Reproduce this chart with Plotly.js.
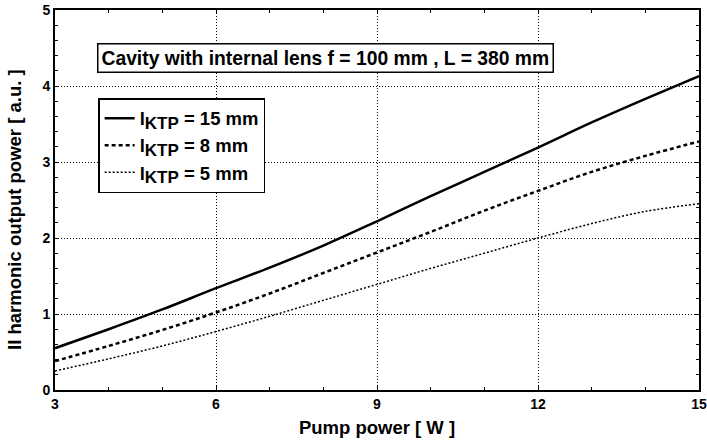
<!DOCTYPE html>
<html>
<head>
<meta charset="utf-8">
<script src="https://cdn.plot.ly/plotly-3.0.1.min.js"></script>
<style>html,body{margin:0;padding:0;background:#fff}#chart{width:707px;height:445px}</style>
</head>
<body>
<div id="chart"></div>
<script>
const pumpPower = [3, 4, 5, 6, 7, 8, 9, 10, 11, 12, 13, 14, 15];
const power15mm = [0.55, 0.80, 1.06, 1.34, 1.61, 1.90, 2.22, 2.55, 2.87, 3.19, 3.52, 3.83, 4.13];
const power8mm  = [0.38, 0.58, 0.79, 1.02, 1.27, 1.54, 1.81, 2.08, 2.36, 2.62, 2.87, 3.08, 3.27];
const power5mm  = [0.25, 0.41, 0.58, 0.77, 0.97, 1.18, 1.39, 1.60, 1.80, 2.00, 2.19, 2.35, 2.45];
const sub = 'l<sub><span style="font-size:17px">KTP</span></sub>';
const seriesNames = [sub + ' = 15 mm', sub + ' = 8 mm', sub + ' = 5 mm'];
const xTicks = [3, 6, 9, 12, 15];
const yTicks = [0, 1, 2, 3, 4, 5];
const boxText = 'Cavity with internal lens f = 100 mm , L = 380 mm';
const xTitle = 'Pump power [ W ]';
const yTitle = 'II harmonic output power [ a.u. ]';

const font = 'Liberation Sans, Arial, sans-serif';
const traces = [
  {x: pumpPower, y: power15mm, name: seriesNames[0], mode: 'lines', line: {color: '#000', width: 2.5, shape: 'spline'}},
  {x: pumpPower, y: power8mm, name: seriesNames[1], mode: 'lines', line: {color: '#000', width: 2.5, dash: '4px,3px', shape: 'spline'}},
  {x: pumpPower, y: power5mm, name: seriesNames[2], mode: 'lines', line: {color: '#000', width: 1.5, dash: '2px,2px', shape: 'spline'}}
];
const axisCommon = {
  showline: true, linecolor: '#000', linewidth: 2, mirror: 'allticks',
  ticks: 'inside', ticklen: 4, tickcolor: '#000',
  showgrid: true, gridcolor: '#000', gridwidth: 1, griddash: '1px,2px',
  zeroline: false,
  tickfont: {family: font, size: 14, color: '#000', weight: 'bold'}
};
const layout = {
  width: 707, height: 445,
  margin: {l: 55, r: 8, t: 10, b: 55},
  paper_bgcolor: '#fff', plot_bgcolor: '#fff',
  showlegend: true,
  xaxis: Object.assign({}, axisCommon, {
    range: [3, 15], tickvals: xTicks, ticktext: xTicks.map(String),
    minor: {dtick: 1, tick0: 3, ticks: 'inside', ticklen: 3, tickcolor: '#000', showgrid: false},
    title: {text: xTitle, font: {family: font, size: 18.5, color: '#000', weight: 'bold'}, standoff: 10}
  }),
  yaxis: Object.assign({}, axisCommon, {
    range: [0, 5], tickvals: yTicks, ticktext: yTicks.map(String),
    minor: {dtick: 0.2, tick0: 0, ticks: 'inside', ticklen: 3, tickcolor: '#000', showgrid: false}
  }),
  legend: {
    x: 0.067, y: 0.768, xanchor: 'left', yanchor: 'top',
    bgcolor: '#fff', bordercolor: '#000', borderwidth: 1.5,
    font: {family: font, size: 18.5, color: '#000', weight: 'bold'},
    itemwidth: 30, tracegroupgap: 0
  },
  annotations: [{
    xref: 'paper', yref: 'paper', x: 0.065, y: 0.912, xanchor: 'left', yanchor: 'top',
    text: boxText, showarrow: false,
    font: {family: font, size: 19.3, color: '#000', weight: 'bold'},
    bordercolor: '#000', borderwidth: 1.5, borderpad: 3, bgcolor: '#fff'
  }, {
    xref: 'paper', yref: 'paper', x: -0.062, y: 0.474, xanchor: 'center', yanchor: 'middle',
    text: yTitle, textangle: -90, showarrow: false,
    font: {family: font, size: 18.5, color: '#000', weight: 'bold'}
  }]
};
Plotly.newPlot('chart', traces, layout, {displayModeBar: false, staticPlot: true});
</script>
</body>
</html>
